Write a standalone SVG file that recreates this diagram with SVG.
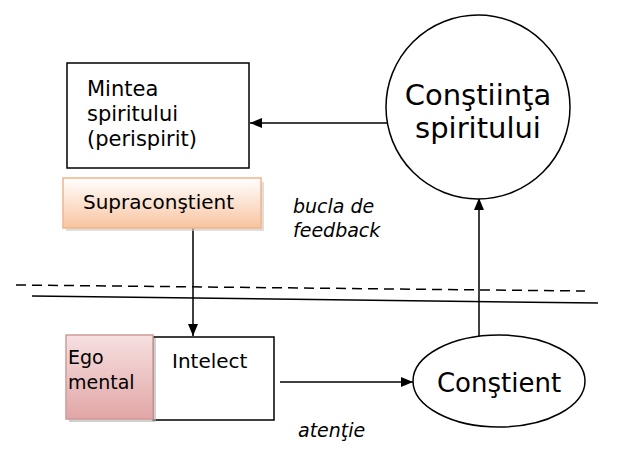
<svg xmlns="http://www.w3.org/2000/svg" width="627" height="470" viewBox="0 0 627 470">
<style>
text{font-family:"DejaVu Sans","Liberation Sans",sans-serif;fill:#000}
.box{fill:#fff;stroke:#000;stroke-width:1.5}
.ln{stroke:#000;stroke-width:1.5;fill:none}
.it{font-style:italic;font-size:19px}
</style>
<defs>
<linearGradient id="gOr" x1="0" y1="0" x2="0" y2="1">
<stop offset="0" stop-color="#ffffff"/>
<stop offset="1" stop-color="#f8c4a0"/>
</linearGradient>
<linearGradient id="gPk" x1="0" y1="0" x2="0" y2="1">
<stop offset="0" stop-color="#f6e0e0"/>
<stop offset="1" stop-color="#e2a6a6"/>
</linearGradient>
<marker id="ah" viewBox="0 0 12 10" refX="12" refY="5" markerWidth="12" markerHeight="10" markerUnits="userSpaceOnUse" orient="auto">
<path d="M0,0L12,5L0,10z" fill="#000"/>
</marker>
</defs>
<g id="connectors">
<line class="ln" x1="387" y1="123" x2="250" y2="123" marker-end="url(#ah)"/>
<line class="ln" x1="193" y1="228" x2="193" y2="336" marker-end="url(#ah)"/>
<line class="ln" x1="280" y1="382" x2="413" y2="382" marker-end="url(#ah)"/>
<line class="ln" x1="479" y1="336" x2="479" y2="198" marker-end="url(#ah)"/>
<line class="ln" x1="16" y1="285" x2="585" y2="291" stroke-dasharray="10 6"/>
<line class="ln" x1="32" y1="296" x2="598" y2="303"/>
</g>
<g id="mintea">
<rect class="box" x="67" y="63" width="182" height="105"/>
<text x="87" y="96" font-size="21">Mintea</text>
<text x="87" y="121" font-size="21">spiritului</text>
<text x="87" y="146" font-size="21">(perispirit)</text>
</g>
<g id="supra">
<rect x="66" y="182" width="198" height="49" fill="#c8c8c8" opacity="0.6"/>
<rect x="63" y="178" width="198" height="50" fill="url(#gOr)" stroke="#f3b48a" stroke-width="1.5"/>
<text x="83" y="209" font-size="20">Supraconştient</text>
</g>
<g id="constiinta">
<circle cx="478" cy="107" r="92" fill="#fff" stroke="#000" stroke-width="1.5"/>
<text x="478" y="105" font-size="29" text-anchor="middle">Conştiinţa</text>
<text x="478" y="138" font-size="29" text-anchor="middle">spiritului</text>
</g>
<g id="intelect">
<rect class="box" x="153" y="337" width="121" height="83"/>
<text x="172" y="368" font-size="20">Intelect</text>
</g>
<g id="ego">
<rect x="69" y="338" width="87" height="84" fill="#b0b0b0" opacity="0.6"/>
<rect x="66" y="335" width="87" height="84" fill="url(#gPk)" stroke="#cf9a9a" stroke-width="1.5"/>
<text x="68" y="364" font-size="19">Ego</text>
<text x="68" y="389" font-size="19">mental</text>
</g>
<g id="constient">
<ellipse cx="499" cy="381" rx="86" ry="46" fill="#fff" stroke="#000" stroke-width="1.5"/>
<text x="499" y="392" font-size="26" text-anchor="middle">Conştient</text>
</g>
<g id="labels">
<text class="it" x="293" y="213">bucla de</text>
<text class="it" x="293" y="237">feedback</text>
<text class="it" x="298" y="437">atenţie</text>
</g>
</svg>
